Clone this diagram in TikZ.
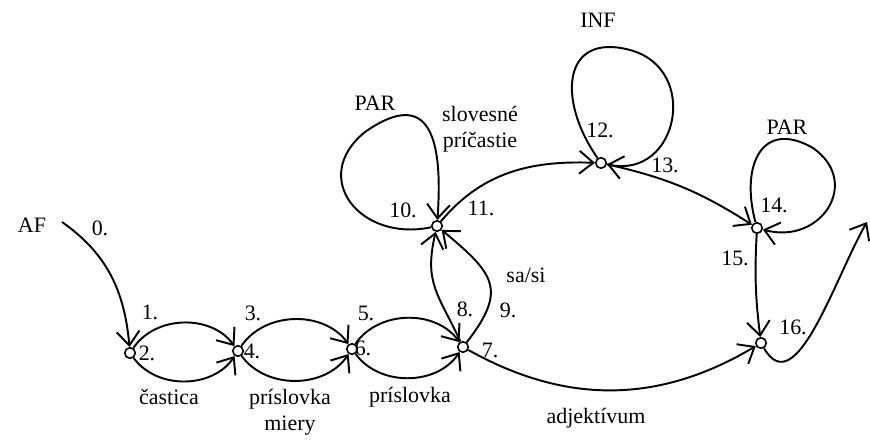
\documentclass[tikz,border=0pt]{standalone}
\usepackage{fontspec}
\setmainfont{Liberation Serif}
\usetikzlibrary{arrows.meta}

\begin{document}
\begin{tikzpicture}[line width=1.1pt,
  sipka/.style={-{Straight Barb[length=8pt,width=13pt]}},
  stav/.style={circle,draw,line width=0.9pt,inner sep=0pt,minimum size=6pt},
  cis/.style={font=\fontsize{12.5}{15}\selectfont},
  slovo/.style={font=\fontsize{12.5}{15}\selectfont,align=center},
  smycka/.style={looseness=1.6}]
  \useasboundingbox (0,0) rectangle (17.4,8.8);
  % stavy siete
  \node[stav] (s2) at (2.6,1.74) {};
  \node[stav] (s4) at (4.76,1.78) {};
  \node[stav] (s6) at (7.04,1.82) {};
  \node[stav] (s7) at (9.26,1.86) {};
  \node[stav] (s10) at (8.74,4.28) {};
  \node[stav] (s12) at (12.02,5.54) {};
  \node[stav] (s14) at (15.14,4.24) {};
  \node[stav] (s16) at (15.22,1.94) {};
  \coordinate (start) at (1.24,4.36);
  \coordinate (ende) at (17.34,4.36);
  \coordinate (v10) at (7.3,6.16);
  \coordinate (v12) at (12.6,7.8);
  \coordinate (v14) at (16.26,5.84);
  % popisy
  \node[slovo] (af) at (0.64,4.3) {AF};
  \node[cis] (c0) at (2.0,4.24) {0.};
  \node[cis] (c1) at (3.0,2.56) {1.};
  \node[cis] (c2) at (2.94,1.74) {2.};
  \node[cis] (c3) at (5.06,2.54) {3.};
  \node[cis] (c4) at (5.04,1.78) {4.};
  \node[cis] (c5) at (7.32,2.54) {5.};
  \node[cis] (c6) at (7.26,1.84) {6.};
  \node[cis] (c7) at (9.8,1.8) {7.};
  \node[cis] (c8) at (9.3,2.62) {8.};
  \node[cis] (c9) at (10.16,2.6) {9.};
  \node[cis] (c10) at (8.06,4.6) {10.};
  \node[cis] (c11) at (9.62,4.64) {11.};
  \node[cis] (c12) at (12.0,6.2) {12.};
  \node[cis] (c13) at (13.3,5.5) {13.};
  \node[cis] (c14) at (15.48,4.7) {14.};
  \node[cis] (c15) at (14.7,3.64) {15.};
  \node[cis] (c16) at (15.86,2.26) {16.};
  \node[slovo] (par1) at (7.5,6.74) {PAR};
  \node[slovo] (inf) at (11.96,8.4) {INF};
  \node[slovo] (par2) at (15.74,6.26) {PAR};
  \node[slovo] (sasi) at (10.52,3.3) {sa/si};
  \node[slovo] (slov) at (9.6,6.22) {slovesné\\príčastie};
  \node[slovo] (cast) at (3.38,0.86) {častica};
  \node[slovo] (prm) at (5.8,0.56) {príslovka\\miery};
  \node[slovo] (pr) at (8.2,0.86) {príslovka};
  \node[slovo] (adj) at (11.92,0.44) {adjektívum};
  % prechody
  \path[sipka]
    (start) edge[out=-35,in=95] (s2)
    (s2) edge[bend left=55] (s4)
         edge[bend right=55] (s4)
    (s4) edge[bend left=55] (s6)
         edge[bend right=55] (s6)
    (s6) edge[bend left=55] (s7)
         edge[bend right=55] (s7)
    (s7) edge[out=115,in=-103,looseness=1.2] (s10)
         edge[out=52,in=-40,looseness=1.5] (s10)
         edge[bend right=30] (s16)
    (s10) edge[out=50,in=178] (s12)
    (s12) edge[bend left=10] (s14)
    (s14) edge[bend right=5] (s16)
    (s16) edge[out=-60,in=240] (ende);
  % slucky
  \draw[sipka] (s10) to[out=192,in=219,smycka] (v10) to[out=35,in=86,looseness=1.8] (s10);
  \draw[sipka] (s12) to[out=125,in=165,smycka] (v12) to[out=-15,in=-12,smycka] (s12);
  \draw[sipka] (s14) to[out=105,in=150,smycka] (v14) to[out=-35,in=-15,smycka] (s14);
\end{tikzpicture}
\end{document}
